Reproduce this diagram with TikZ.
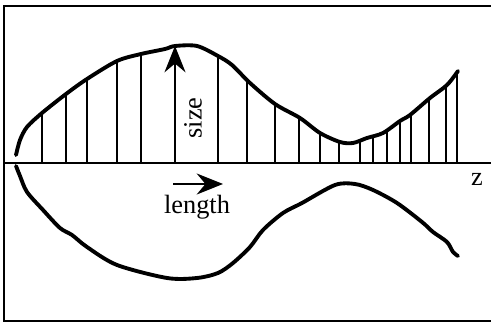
\documentclass[tikz,border=0pt]{standalone}
\usepackage{fontspec}
\setmainfont{Liberation Serif}
\usetikzlibrary{arrows.meta, positioning}

\begin{document}
\begin{tikzpicture}[x=0.02cm, y=-0.02cm,
  curve/.style={line width=2.2pt, line join=round, line cap=round},
  stick/.style={line width=1.5pt},
  bigarrow/.style={line width=0.7pt, -{Stealth[length=15pt, width=12pt, inset=5pt]}},
  lbl/.style={font=\fontsize{15}{18}\selectfont, inner sep=0pt}]
\useasboundingbox (0,0) rectangle (491,323);
% frame
\draw[line width=1.3pt] (491,6) -- (4,6) -- (4,321) -- (491,321);
% axis
\coordinate (o) at (4,163);
\coordinate (e) at (491,163);
\draw[line width=1.4pt] (o) -- (e);
\node[lbl] (z) at (477,179) {z};

% upper curve with its sticks
\draw[curve] plot[smooth, tension=0.5] coordinates {(16,155) (20,140) (27,127) (42,113) (66,94) (87,79)
  (117,61) (141,54) (165,49) (175,46) (197,46) (218,56) (232,65) (250,83) (275,104) (300,118)
  (320,133) (340,142) (353,143) (367,138) (383,133) (400,121) (410,115) (430,98) (447,85) (458,71)};
\foreach \x/\y in {42/114, 66/95, 87/80, 117/62, 141/55, 218/57, 247/81, 275/105, 299/118, 320/134,
  339/142, 360/142, 373/137, 387/131, 400/121, 411/115, 429/99, 446/86, 457/73}
  \draw[stick] (\x,163) -- (\x,\y);

% size arrow
\coordinate (sizebase) at (175,163);
\coordinate (sizetip) at (175,46);
\draw[bigarrow] (sizebase) -- (sizetip);
\node[lbl, rotate=90] (size) at (193,118) {size};

% lower curve
\draw[curve] plot[smooth, tension=0.5] coordinates {(16,166) (20,176) (27,192) (43,210) (60,228) (72,235)
  (87,247) (117,265) (167,278) (197,278) (218,273) (233,263) (250,247) (263,230) (283,213)
  (302,203) (335,185) (355,184) (373,190) (397,203) (422,222) (433,232) (447,242) (453,252) (458,256)};

% length arrow
\node[lbl] (length) at (197,207) {length};
\coordinate (lenstart) at (173,184);
\coordinate (lenend) at (223,184);
\draw[bigarrow] (lenstart) -- (lenend);
\end{tikzpicture}
\end{document}
